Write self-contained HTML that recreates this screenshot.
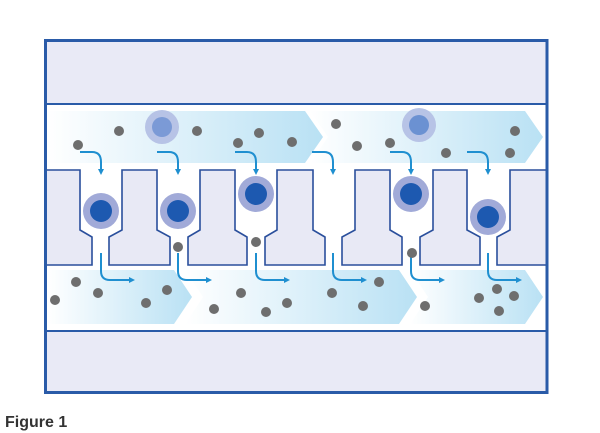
<!DOCTYPE html>
<html><head><meta charset="utf-8"><style>body{margin:0;background:#fff}svg{display:block}</style></head><body>
<svg width="600" height="433" viewBox="0 0 600 433" xmlns="http://www.w3.org/2000/svg">
<defs>
<linearGradient id="g" x1="0" x2="1" y1="0" y2="0"><stop offset="0" stop-color="#ffffff"/><stop offset="1" stop-color="#b9e1f4"/></linearGradient>
<marker id="ah" markerUnits="userSpaceOnUse" markerWidth="7" markerHeight="7" refX="2" refY="3.5" orient="auto"><path d="M0,0.5 L6,3.5 L0,6.5 z" fill="#1f8fd0"/></marker>
</defs>
<rect x="45" y="40" width="502" height="353" fill="#fff"/>
<rect x="46" y="41" width="500" height="63" fill="#e9eaf6"/>
<rect x="46" y="331" width="500" height="61" fill="#e9eaf6"/>
<path d="M47,111 L305,111 L323,137 L305,163 L47,163 Z" fill="url(#g)"/>
<path d="M310,111 L525,111 L543,137 L525,163 L310,163 L328,137 Z" fill="url(#g)"/>
<path d="M47,270 L174,270 L192,297 L174,324 L47,324 Z" fill="url(#g)"/>
<path d="M185,270 L399,270 L417,297 L399,324 L185,324 L203,297 Z" fill="url(#g)"/>
<path d="M410,270 L525,270 L543,297 L525,324 L410,324 L428,297 Z" fill="url(#g)"/>
<g fill="#e8e9f5" stroke="#2a4f9c" stroke-width="1.6">
<path d="M46,170 L80,170 L80,230 L92,237 L92,265 L46,265"/>
<path d="M122,170 L157,170 L157,230 L170,237 L170,265 L109,265 L109,237 L122,230 Z"/>
<path d="M200,170 L235,170 L235,230 L247,237 L247,265 L188,265 L188,237 L200,230 Z"/>
<path d="M277,170 L313,170 L313,230 L325,237 L325,265 L265,265 L265,237 L277,230 Z"/>
<path d="M355,170 L390,170 L390,230 L402,237 L402,265 L342,265 L342,237 L355,230 Z"/>
<path d="M433,170 L467,170 L467,230 L480,237 L480,265 L420,265 L420,237 L433,230 Z"/>
<path d="M546,170 L510,170 L510,230 L497,237 L497,265 L546,265"/>
</g>
<g fill="none" stroke="#1f8fd0" stroke-width="2" marker-end="url(#ah)">
<path d="M80,152 L92,152 Q101,152 101,162 L101,171"/>
<path d="M157,152 L169,152 Q178,152 178,162 L178,171"/>
<path d="M235,152 L247,152 Q256,152 256,162 L256,171"/>
<path d="M312,152 L324,152 Q333,152 333,162 L333,171"/>
<path d="M390,152 L402,152 Q411,152 411,162 L411,171"/>
<path d="M467,152 L479,152 Q488,152 488,162 L488,171"/>
<path d="M101,253 L101,271 Q101,280 110,280 L131,280"/>
<path d="M178,253 L178,271 Q178,280 187,280 L208,280"/>
<path d="M256,253 L256,271 Q256,280 265,280 L286,280"/>
<path d="M333,253 L333,271 Q333,280 342,280 L363,280"/>
<path d="M411,256 L411,271 Q411,280 420,280 L441,280"/>
<path d="M488,253 L488,271 Q488,280 497,280 L518,280"/>
</g>
<g>
<circle cx="162" cy="127" r="17" fill="#b7c3e6"/><circle cx="162" cy="127" r="10" fill="#7b9ad6"/>
<circle cx="419" cy="125" r="17" fill="#b7c3e6"/><circle cx="419" cy="125" r="10" fill="#6b91d2"/>
<circle cx="101" cy="211" r="18" fill="#a1aad8"/><circle cx="101" cy="211" r="11" fill="#1d59b0"/>
<circle cx="178" cy="211" r="18" fill="#a1aad8"/><circle cx="178" cy="211" r="11" fill="#1d59b0"/>
<circle cx="256" cy="194" r="18" fill="#a1aad8"/><circle cx="256" cy="194" r="11" fill="#1d59b0"/>
<circle cx="411" cy="194" r="18" fill="#a1aad8"/><circle cx="411" cy="194" r="11" fill="#1d59b0"/>
<circle cx="488" cy="217" r="18" fill="#a1aad8"/><circle cx="488" cy="217" r="11" fill="#1d59b0"/>
</g>
<g fill="#6e6e6e">
<circle cx="119" cy="131" r="5"/><circle cx="197" cy="131" r="5"/><circle cx="78" cy="145" r="5"/>
<circle cx="238" cy="143" r="5"/><circle cx="259" cy="133" r="5"/><circle cx="292" cy="142" r="5"/>
<circle cx="336" cy="124" r="5"/><circle cx="357" cy="146" r="5"/><circle cx="390" cy="143" r="5"/>
<circle cx="446" cy="153" r="5"/><circle cx="515" cy="131" r="5"/><circle cx="510" cy="153" r="5"/>
<circle cx="76" cy="282" r="5"/><circle cx="55" cy="300" r="5"/><circle cx="98" cy="293" r="5"/>
<circle cx="146" cy="303" r="5"/><circle cx="167" cy="290" r="5"/><circle cx="214" cy="309" r="5"/>
<circle cx="241" cy="293" r="5"/><circle cx="266" cy="312" r="5"/><circle cx="287" cy="303" r="5"/>
<circle cx="332" cy="293" r="5"/><circle cx="379" cy="282" r="5"/><circle cx="363" cy="306" r="5"/>
<circle cx="425" cy="306" r="5"/><circle cx="479" cy="298" r="5"/><circle cx="497" cy="289" r="5"/>
<circle cx="514" cy="296" r="5"/><circle cx="499" cy="311" r="5"/>
<circle cx="178" cy="247" r="5"/><circle cx="256" cy="242" r="5"/><circle cx="412" cy="253" r="5"/>
</g>
<line x1="45" y1="104" x2="547" y2="104" stroke="#2a5ba8" stroke-width="2"/>
<line x1="45" y1="331" x2="547" y2="331" stroke="#2a5ba8" stroke-width="2"/>
<rect x="45.5" y="40.5" width="501.5" height="352" fill="none" stroke="#2a5ba8" stroke-width="3"/>
<text x="5" y="427" font-family="Liberation Sans, sans-serif" font-weight="bold" font-size="16" fill="#333">Figure 1</text>
</svg>
</body></html>
